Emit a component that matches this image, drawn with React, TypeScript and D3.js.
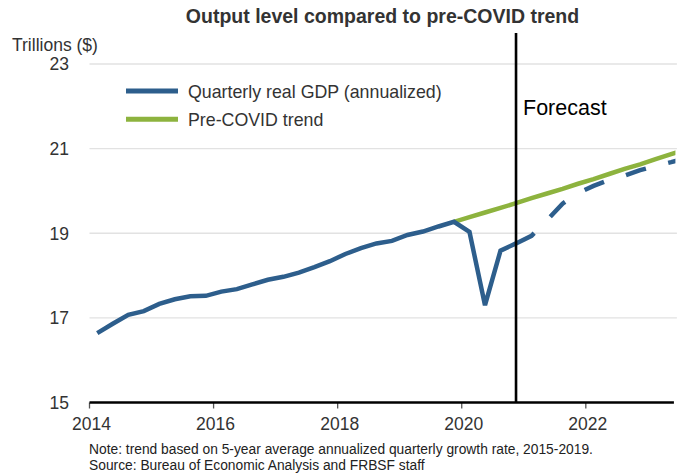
import React from 'react';
import * as d3 from 'd3';

// ---- Data (trillions of dollars, quarterly) ----
const actualStart = { year: 2014, q: 1 };
const gdpActual = [
  16.64, 16.86, 17.07, 17.16, // 2014
  17.33, 17.44, 17.51, 17.52, // 2015
  17.62, 17.68, 17.79, 17.90, // 2016
  17.97, 18.07, 18.20, 18.34, // 2017
  18.51, 18.65, 18.76, 18.82, // 2018
  18.96, 19.04, 19.16, 19.27, // 2019
  19.03, 17.30, 18.59, 18.76, // 2020
];
const forecastStart = { year: 2020, q: 4 };
const gdpForecast = [
  18.76, // 2020Q4
  18.94, 19.31, 19.70, 19.95, // 2021
  20.12, 20.26, 20.36, 20.49, // 2022
  20.59, 20.68, 20.78, // 2023
];
const trendStart = { year: 2019, q: 4 };
const trendValues = [
  19.27,
  19.38, 19.49, 19.60, 19.71,
  19.83, 19.94, 20.05, 20.17,
  20.28, 20.40, 20.52, 20.63,
  20.75, 20.87, 20.99,
];
const yTicks = [15, 17, 19, 21, 23];
const xTicks = [2014, 2016, 2018, 2020, 2022];
const forecastYear = 2020.875;

const seriesNames = ['Quarterly real GDP (annualized)', 'Pre-COVID trend'];
const title = 'Output level compared to pre-COVID trend';
const yTitle = 'Trillions ($)';
const noteLines = [
  'Note: trend based on 5-year average annualized quarterly growth rate, 2015-2019.',
  'Source: Bureau of Economic Analysis and FRBSF staff',
];

const BLUE = '#2d5e8c';
const GREEN = '#8db33e';
const FONT = '"Liberation Sans", Arial, sans-serif';

type Pt = { t: number; v: number };
const toPoints = (start: { year: number; q: number }, vals: number[]): Pt[] =>
  vals.map((v, i) => {
    const qi = (start.q - 1) + i;
    return { t: start.year + qi * 0.25 + 0.125, v };
  });

export default function App() {
  const W = 685;
  const H = 475;
  const x = d3.scaleLinear().domain([2014, 2023.42]).range([89.5, 89.5 + 9.42 * 62.04]);
  const y = d3.scaleLinear().domain([15, 23]).range([402.5, 64]);
  const line = d3
    .line<Pt>()
    .x((d) => x(d.t))
    .y((d) => y(d.v));

  const actual = toPoints(actualStart, gdpActual);
  const forecast = toPoints(forecastStart, gdpForecast);
  const trend = toPoints(trendStart, trendValues);
  const [x0, x1] = x.range();

  return (
    <svg
      width={W}
      height={H}
      style={{ position: 'absolute', left: 0, top: 0, background: '#fff' }}
      fontFamily={FONT}
    >
      <defs>
        <clipPath id="plot">
          <rect x={x0} y={30} width={x1 - x0 + 1.5} height={380} />
        </clipPath>
      </defs>
      <text x={382.5} y={23} textAnchor="middle" fontSize={19.5} fontWeight="bold" fill="#333">
        {title}
      </text>
      <text x={12} y={51} fontSize={17.5} fill="#333">
        {yTitle}
      </text>
      {yTicks.map((t) => (
        <g key={t}>
          {t !== 15 && (
            <line x1={x0} x2={x1 + 3} y1={y(t)} y2={y(t)} stroke="#e2e2e2" strokeWidth={1.4} />
          )}
          <text x={69} y={y(t) + 6.3} textAnchor="end" fontSize={17.5} fill="#333">
            {t}
          </text>
        </g>
      ))}
      {xTicks.map((t) => (
        <g key={t}>
          <line x1={x(t)} x2={x(t)} y1={y(15)} y2={y(15) + 6} stroke="#555" strokeWidth={1.3} />
          <text x={x(t) + 2} y={430} textAnchor="middle" fontSize={17.5} fill="#333">
            {t}
          </text>
        </g>
      ))}
      <g clipPath="url(#plot)" fill="none" strokeLinejoin="miter">
        <path d={line(trend) || ''} stroke={GREEN} strokeWidth={4.5} />
        <path d={line(actual) || ''} stroke={BLUE} strokeWidth={4.5} />
        <path d={line(forecast) || ''} stroke={BLUE} strokeWidth={4.5} strokeDasharray="21 23" />
      </g>
      <line x1={x0} x2={x1} y1={y(15)} y2={y(15)} stroke="#000" strokeWidth={2.5} />
      <line
        x1={x(forecastYear)}
        x2={x(forecastYear)}
        y1={33}
        y2={y(15)}
        stroke="#000"
        strokeWidth={2.6}
      />
      <text x={523} y={115} fontSize={21.5} fill="#000">
        Forecast
      </text>
      {/* legend */}
      <line x1={126} x2={178} y1={91} y2={91} stroke={BLUE} strokeWidth={5} />
      <text x={188} y={97.5} fontSize={17.8} fill="#333">
        {seriesNames[0]}
      </text>
      <line x1={126} x2={178} y1={119.3} y2={119.3} stroke={GREEN} strokeWidth={5} />
      <text x={188} y={125.5} fontSize={17.8} fill="#333">
        {seriesNames[1]}
      </text>
      {noteLines.map((s, i) => (
        <text key={i} x={89} y={454 + i * 16} fontSize={13.8} fill="#222">
          {s}
        </text>
      ))}
    </svg>
  );
}
